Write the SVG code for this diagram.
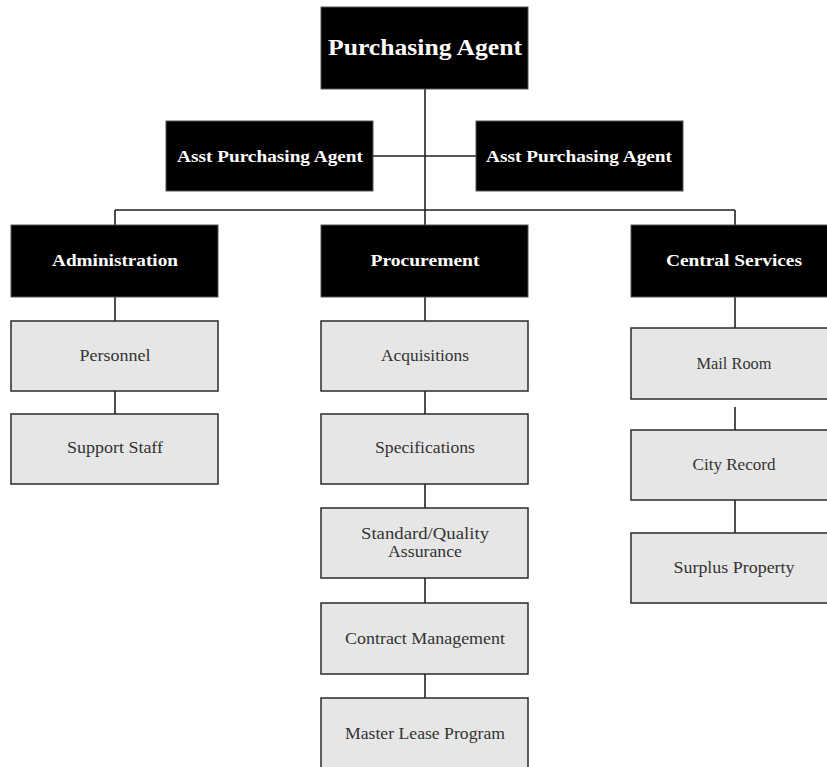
<svg xmlns="http://www.w3.org/2000/svg" width="827" height="767" viewBox="0 0 827 767">
<style>
.dark{fill:#000;stroke:#555;stroke-width:1}
.light{fill:#e6e6e6;stroke:#2b2b2b;stroke-width:1.5}
.tb{font-family:"Liberation Serif","Times New Roman",serif;font-weight:bold;fill:#fff;text-anchor:middle;font-size:17.5px}
.tr{font-family:"Liberation Serif","Times New Roman",serif;fill:#333;text-anchor:middle;font-size:16.5px}
.ln{stroke:#222;stroke-width:1.6;fill:none}
</style>
<rect width="827" height="767" fill="#fff"/>
<g id="connectors">
<path class="ln" d="M425 89V225M373 156H476M115 210H735M115 210V225M735 210V225"/>
<path class="ln" d="M115 297V321M115 391V414"/>
<path class="ln" d="M425 297V321M425 391V414M425 484V508M425 578V603M425 674V698"/>
<path class="ln" d="M735 297V328M735 407V430M735 500V533"/>
</g>
<g id="purchasing-agent"><rect class="dark" x="321" y="7" width="207" height="82"/><text class="tb" x="425" y="55" style="font-size:24px" textLength="194" lengthAdjust="spacingAndGlyphs">Purchasing Agent</text></g>
<g id="asst-left"><rect class="dark" x="166" y="121" width="207" height="70"/><text class="tb" x="270" y="162" textLength="186" lengthAdjust="spacingAndGlyphs">Asst Purchasing Agent</text></g>
<g id="asst-right"><rect class="dark" x="476" y="121" width="207" height="70"/><text class="tb" x="579" y="162" textLength="186" lengthAdjust="spacingAndGlyphs">Asst Purchasing Agent</text></g>
<g id="administration"><rect class="dark" x="11" y="225" width="207" height="72"/><text class="tb" x="115" y="266" textLength="126" lengthAdjust="spacingAndGlyphs">Administration</text></g>
<g id="procurement"><rect class="dark" x="321" y="225" width="207" height="72"/><text class="tb" x="425" y="266" textLength="109" lengthAdjust="spacingAndGlyphs">Procurement</text></g>
<g id="central-services"><rect class="dark" x="631" y="225" width="207" height="72"/><text class="tb" x="734" y="266" textLength="136" lengthAdjust="spacingAndGlyphs">Central Services</text></g>
<g id="personnel"><rect class="light" x="11" y="321" width="207" height="70"/><text class="tr" x="115" y="361" textLength="71" lengthAdjust="spacingAndGlyphs">Personnel</text></g>
<g id="support-staff"><rect class="light" x="11" y="414" width="207" height="70"/><text class="tr" x="115" y="453" textLength="96" lengthAdjust="spacingAndGlyphs">Support Staff</text></g>
<g id="acquisitions"><rect class="light" x="321" y="321" width="207" height="70"/><text class="tr" x="425" y="361" textLength="88" lengthAdjust="spacingAndGlyphs">Acquisitions</text></g>
<g id="specifications"><rect class="light" x="321" y="414" width="207" height="70"/><text class="tr" x="425" y="453" textLength="100" lengthAdjust="spacingAndGlyphs">Specifications</text></g>
<g id="standard-quality"><rect class="light" x="321" y="508" width="207" height="70"/><text class="tr" x="425" y="539" textLength="128" lengthAdjust="spacingAndGlyphs">Standard/Quality</text><text class="tr" x="425" y="557" textLength="74" lengthAdjust="spacingAndGlyphs">Assurance</text></g>
<g id="contract-management"><rect class="light" x="321" y="603" width="207" height="71"/><text class="tr" x="425" y="644" textLength="160" lengthAdjust="spacingAndGlyphs">Contract Management</text></g>
<g id="master-lease"><rect class="light" x="321" y="698" width="207" height="72"/><text class="tr" x="425" y="739" textLength="160" lengthAdjust="spacingAndGlyphs">Master Lease Program</text></g>
<g id="mail-room"><rect class="light" x="631" y="328" width="207" height="71"/><text class="tr" x="734" y="369" textLength="75" lengthAdjust="spacingAndGlyphs">Mail Room</text></g>
<g id="city-record"><rect class="light" x="631" y="430" width="207" height="70"/><text class="tr" x="734" y="470" textLength="83" lengthAdjust="spacingAndGlyphs">City Record</text></g>
<g id="surplus-property"><rect class="light" x="631" y="533" width="207" height="70"/><text class="tr" x="734" y="573" textLength="121" lengthAdjust="spacingAndGlyphs">Surplus Property</text></g>
</svg>
